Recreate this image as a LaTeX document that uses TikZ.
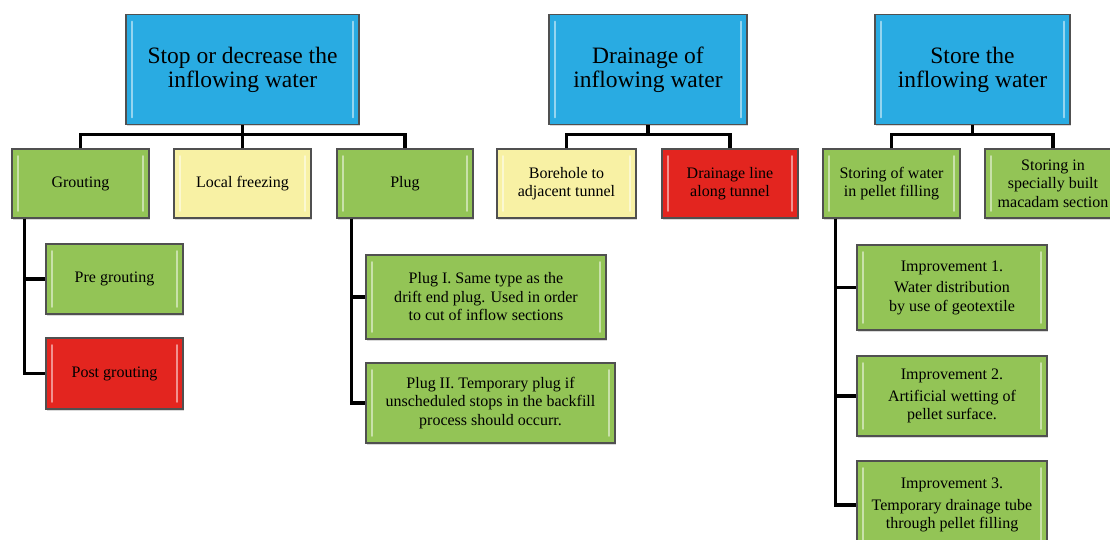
\documentclass[tikz,border=0pt]{standalone}
\usepackage{fontspec}
\setmainfont{Liberation Serif}
\usetikzlibrary{shadows}
\definecolor{cblue}{HTML}{29ABE2}
\definecolor{cgreen}{HTML}{93C456}
\definecolor{cyellow}{HTML}{F8F1A4}
\definecolor{cred}{HTML}{E3251F}
\definecolor{cborder}{HTML}{505050}
\tikzset{
  box/.style={draw=cborder, line width=1.3pt, rectangle, inner sep=2pt, align=center,
    font=\fontsize{16}{18.5}\selectfont,
    drop shadow={opacity=0.3, shadow xshift=1pt, shadow yshift=-1.5pt},
    path picture={
      \draw[white, opacity=0.5, line width=1.6pt, line cap=round]
        ([xshift=6pt,yshift=-7pt]path picture bounding box.north west) --
        ([xshift=6pt,yshift=7pt]path picture bounding box.south west);
      \draw[white, opacity=0.5, line width=1.6pt, line cap=round]
        ([xshift=-6pt,yshift=-7pt]path picture bounding box.north east) --
        ([xshift=-6pt,yshift=7pt]path picture bounding box.south east);
    }},
  headbox/.style={box, fill=cblue, font=\fontsize{23.5}{24}\selectfont},
  greenbox/.style={box, fill=cgreen},
  yellowbox/.style={box, fill=cyellow},
  redbox/.style={box, fill=cred},
  conn/.style={line width=3.2pt, black},
}
\begin{document}
\begin{tikzpicture}[x=1pt,y=-1pt]
\useasboundingbox (0,0) rectangle (1110,540);
\clip (0,0) rectangle (1110,540);

% top level
\node[headbox, minimum width=233pt, minimum height=110pt] (T1) at (242.5,69.5) {Stop or decrease the\\inflowing water};
\node[headbox, minimum width=198pt, minimum height=110pt] (T2) at (648,69.5) {Drainage of\\inflowing water};
\node[headbox, minimum width=195pt, minimum height=110pt] (T3) at (972.5,69.5) {Store the\\inflowing water};

% second level
\node[greenbox, minimum width=137pt, minimum height=69pt] (G) at (80.5,183.5) {Grouting};
\node[yellowbox, minimum width=137pt, minimum height=69pt] (LF) at (242.5,183.5) {Local freezing};
\node[greenbox, minimum width=136pt, minimum height=69pt] (P) at (405,183.5) {Plug};
\node[yellowbox, minimum width=139pt, minimum height=69pt] (B) at (566.5,183.5) {Borehole to\\adjacent tunnel};
\node[redbox, minimum width=136pt, minimum height=69pt] (DL) at (730,183.5) {Drainage line\\along tunnel};
\node[greenbox, minimum width=137pt, minimum height=69pt] (SW) at (891.5,183.5) {Storing of water\\in pellet filling};
\node[greenbox, minimum width=136pt, minimum height=69pt] (SI) at (1053,183.5) {Storing in\\specially built\\macadam section};

% third level
\node[greenbox, minimum width=137pt, minimum height=70pt] (PreG) at (114.5,279) {Pre grouting};
\node[redbox, minimum width=137pt, minimum height=71pt] (PostG) at (114.5,373.5) {Post grouting};
\node[greenbox, minimum width=240pt, minimum height=84pt] (P1) at (486,297) {Plug I. Same type as the\\drift end plug. Used in order\\to cut of inflow sections};
\node[greenbox, minimum width=249pt, minimum height=80pt] (P2) at (490.5,403) {Plug II. Temporary plug if\\unscheduled stops in the backfill\\process should occurr.};
\node[greenbox, minimum width=190pt, minimum height=85pt] (I1) at (952,287.5) {Improvement 1.\\[3pt]Water distribution\\by use of geotextile};
\node[greenbox, minimum width=190pt, minimum height=80pt] (I2) at (952,396) {Improvement 2.\\[3pt]Artificial wetting of\\pellet surface.};
\node[greenbox, minimum width=190pt, minimum height=88pt] (I3) at (952,505) {Improvement 3.\\[3pt]Temporary drainage tube\\through pellet filling};

% connectors level 1 -> 2
\draw[conn] (G.north) -- ++(0,-14) -| (T1.south);
\draw[conn] (LF.north) -- (T1.south);
\draw[conn] (P.north) -- ++(0,-14) -| (T1.south);
\draw[conn] (B.north) -- ++(0,-14) -| (T2.south);
\draw[conn] (DL.north) -- ++(0,-14) -| (T2.south);
\draw[conn] (SW.north) -- ++(0,-14) -| (T3.south);
\draw[conn] (SI.north) -- ++(0,-14) -| (T3.south);

% connectors level 2 -> 3
\draw[conn] ([xshift=13pt]G.south west) |- (PreG.west);
\draw[conn] ([xshift=13pt]G.south west) |- (PostG.west);
\draw[conn] ([xshift=15pt]P.south west) |- (P1.west);
\draw[conn] ([xshift=15pt]P.south west) |- (P2.west);
\draw[conn] ([xshift=13pt]SW.south west) |- (I1.west);
\draw[conn] ([xshift=13pt]SW.south west) |- (I2.west);
\draw[conn] ([xshift=13pt]SW.south west) |- (I3.west);
\end{tikzpicture}
\end{document}
